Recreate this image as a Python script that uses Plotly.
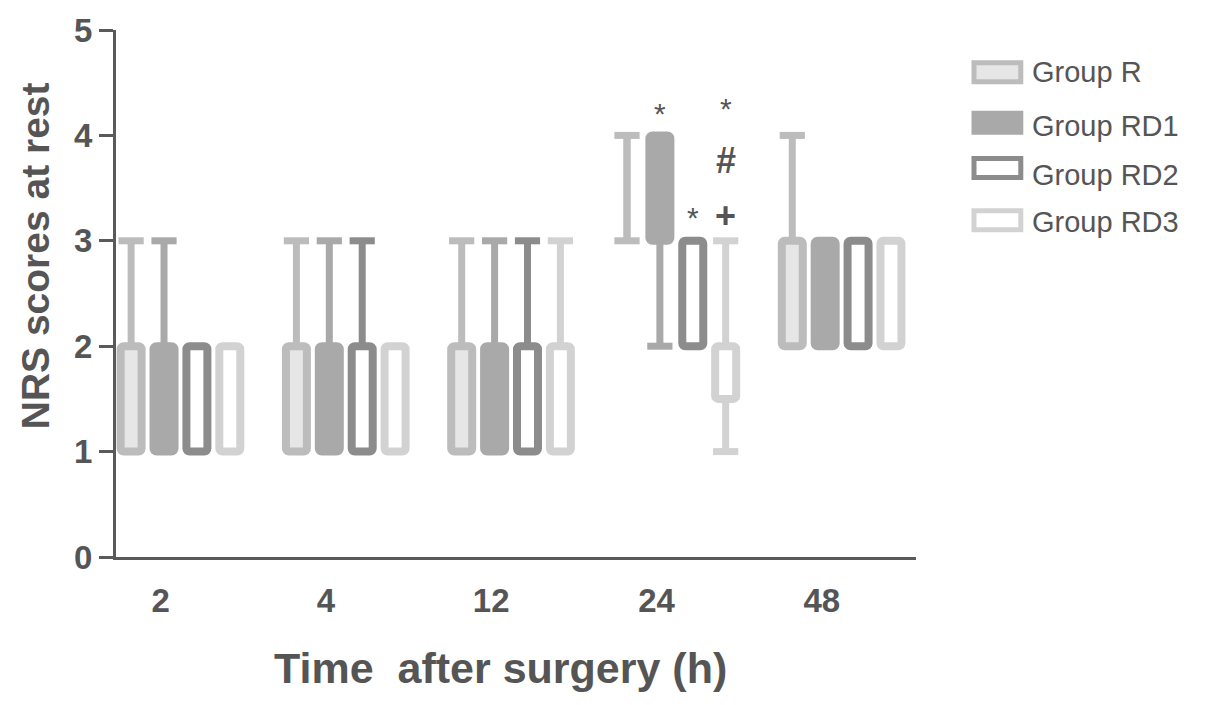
import plotly.graph_objects as go

# data: box (q1..q3) and whisker ends per group and time point
times = ["2", "4", "12", "24", "48"]
groups = ["Group R", "Group RD1", "Group RD2", "Group RD3"]

r_q1 = [1, 1, 1, None, 2]
r_q3 = [2, 2, 2, None, 3]
r_max = [3, 3, 3, 4, 4]
r_min = [None, None, None, 3, None]

rd1_q1 = [1, 1, 1, 3, 2]
rd1_q3 = [2, 2, 2, 4, 3]
rd1_max = [3, 3, 3, None, None]
rd1_min = [None, None, None, 2, None]

rd2_q1 = [1, 1, 1, 2, 2]
rd2_q3 = [2, 2, 2, 3, 3]
rd2_max = [None, 3, 3, None, None]
rd2_min = [None, None, None, None, None]

rd3_q1 = [1, 1, 1, 1.5, 2]
rd3_q3 = [2, 2, 2, 2, 3]
rd3_max = [None, None, 3, 3, None]
rd3_min = [None, None, None, 1, None]

# significance marks at 24 h: (group index, text, y)
sig_marks = [(1, "*", 4.21), (2, "*", 3.22), (3, "*", 4.26), (3, "#", 3.76), (3, "+", 3.24)]

series = [
    (r_q1, r_q3, r_max, r_min),
    (rd1_q1, rd1_q3, rd1_max, rd1_min),
    (rd2_q1, rd2_q3, rd2_max, rd2_min),
    (rd3_q1, rd3_q3, rd3_max, rd3_min),
]

FILLS = ["#e6e6e6", "#a9a9a9", "#ffffff", "#ffffff"]
LINES = ["#bcbcbc", "#a9a9a9", "#8c8c8c", "#d2d2d2"]
TXT = "#555555"
FONT = "Liberation Sans"

SLOT = 0.199
BAR_W = 0.127
xs = list(range(len(times)))

fig = go.Figure()

for k, (q1, q3, hi, lo) in enumerate(series):
    shift = (k - 1.5) * SLOT
    height = [(b - a) if (a is not None and b is not None) else None for a, b in zip(q1, q3)]
    fig.add_trace(go.Bar(
        x=xs, y=height, base=q1,
        width=BAR_W, offset=shift - BAR_W / 2,
        marker=dict(color=FILLS[k], line=dict(color=LINES[k], width=8)),
        name=groups[k], showlegend=False,
    ))

    # whiskers
    wx, wy, cx, cy = [], [], [], []
    for i in xs:
        x = i + shift
        top = q3[i] if q3[i] is not None else lo[i]
        if hi[i] is not None:
            wx += [x, x, None]
            wy += [top, hi[i], None]
            cx.append(x)
            cy.append(hi[i])
        if lo[i] is not None:
            start = q1[i] if q1[i] is not None else hi[i]
            wx += [x, x, None]
            wy += [start, lo[i], None]
            cx.append(x)
            cy.append(lo[i])
    fig.add_trace(go.Scatter(
        x=wx, y=wy, mode="lines",
        line=dict(color=LINES[k], width=7),
        showlegend=False, hoverinfo="skip",
    ))
    fig.add_trace(go.Scatter(
        x=cx, y=cy, mode="markers",
        marker=dict(symbol="line-ew", size=18, line=dict(color=LINES[k], width=7)),
        showlegend=False, hoverinfo="skip",
    ))

for k, txt, y in sig_marks:
    bold = txt != "*"
    fig.add_annotation(
        x=3 + (k - 1.5) * SLOT, y=y, text=f"<b>{txt}</b>" if bold else txt,
        showarrow=False, yanchor="middle",
        font=dict(family=FONT, size=36 if bold else 30, color=TXT),
    )

# custom legend with large swatches
swatch_y = [0.920, 0.824, 0.738, 0.639]
label_y = [0.920, 0.818, 0.725, 0.636]
for k, name in enumerate(groups):
    fig.add_shape(
        type="rect", xref="paper", yref="paper",
        x0=1.0725, x1=1.131, y0=swatch_y[k] - 0.018, y1=swatch_y[k] + 0.018,
        fillcolor=FILLS[k], line=dict(color=LINES[k], width=5),
    )
    fig.add_annotation(
        xref="paper", yref="paper", x=1.143, y=label_y[k],
        text=name, showarrow=False, xanchor="left", yanchor="middle",
        font=dict(family=FONT, size=29, color=TXT),
    )

# axis titles (placed as in the original figure)
fig.add_annotation(
    xref="paper", yref="paper", x=0.481, y=-0.21,
    text="<b>Time  after surgery (h)</b>", showarrow=False,
    xanchor="center", yanchor="middle",
    font=dict(family=FONT, size=43, color=TXT),
)
fig.add_annotation(
    xref="paper", yref="paper", x=-0.101, y=0.571, textangle=-90,
    text="<b>NRS scores at rest</b>", showarrow=False,
    xanchor="center", yanchor="middle",
    font=dict(family=FONT, size=39, color=TXT),
)

fig.update_layout(
    width=1205, height=705,
    margin=dict(l=108, r=297, t=22, b=156),
    plot_bgcolor="white", paper_bgcolor="white",
    barmode="overlay", barcornerradius=3,
    font=dict(family=FONT, color=TXT),
    xaxis=dict(
        range=[-0.39, 4.45], automargin=False,
        tickvals=[i - 0.12 for i in xs], ticktext=times,
        ticks="outside", ticklen=12, tickcolor="rgba(0,0,0,0)",
        showline=True, linecolor="#5a5a5a", linewidth=3,
        showgrid=False, zeroline=False,
        tickfont=dict(family=FONT, size=33, color=TXT, weight="bold"),
    ),
    yaxis=dict(
        range=[0, 5], tickvals=[0, 1, 2, 3, 4, 5], automargin=False,
        ticks="outside", ticklen=14, tickwidth=3, tickcolor="#5a5a5a",
        showline=True, linecolor="#5a5a5a", linewidth=3,
        showgrid=False, zeroline=False,
        tickfont=dict(family=FONT, size=33, color=TXT, weight="bold"),
    ),
)

fig.write_html("out.html")
